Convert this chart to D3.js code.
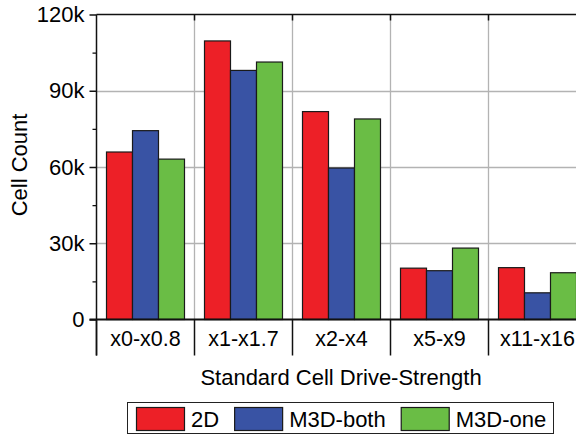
<!DOCTYPE html>
<html>
  <body style="margin:0">
    <style>
      svg {
        font-family: 'Liberation Sans', Arial, sans-serif;
      }
    </style>
    <div class="chart"></div>
    <script src="https://d3js.org/d3.v7.min.js"></script>
    <script type="text/javascript">
      // values
      const categories = ['x0-x0.8', 'x1-x1.7', 'x2-x4', 'x5-x9', 'x11-x16'];
      const seriesNames = ['2D', 'M3D-both', 'M3D-one'];
      const values2D = [65900, 109600, 81800, 20200, 20400];
      const valuesBoth = [74300, 98000, 59600, 19200, 10500];
      const valuesOne = [63100, 101300, 78900, 28100, 18400];
      const majorTicks = [0, 30000, 60000, 90000, 120000];
      const minorTicks = [15000, 45000, 75000, 105000];
      const tickLabels = ['0', '30k', '60k', '90k', '120k'];

      const colorArray = ['#ed2027', '#3953a4', '#6abd45'];
      const width = 576;
      const height = 434;
      const margin = { top: 14.5, left: 96.5, bottom: 319.5 };
      const bandWidth = 98;

      const data = categories.map((c, i) => ({
        label: c,
        values: [values2D[i], valuesBoth[i], valuesOne[i]],
      }));

      const svg = d3
        .select('.chart')
        .append('svg')
        .attr('width', width)
        .attr('height', height);

      const scaleX = d3
        .scaleBand()
        .domain(categories)
        .range([margin.left, margin.left + bandWidth * categories.length]);
      const scaleInner = d3
        .scaleBand()
        .domain(seriesNames)
        .range([10, bandWidth - 10]);
      const scaleY = d3
        .scaleLinear()
        .domain([0, 120000])
        .range([margin.bottom, margin.top]);

      // grid
      const grid = svg.append('g').attr('stroke', '#b3b3b3').attr('stroke-width', 1.3);
      grid
        .selectAll('line.h')
        .data(majorTicks.slice(1, 4))
        .enter()
        .append('line')
        .attr('x1', margin.left)
        .attr('x2', width)
        .attr('y1', (d) => Math.round(scaleY(d)) + 0.5)
        .attr('y2', (d) => Math.round(scaleY(d)) + 0.5);
      grid
        .selectAll('line.v')
        .data(categories.slice(1))
        .enter()
        .append('line')
        .attr('x1', (d) => scaleX(d))
        .attr('x2', (d) => scaleX(d))
        .attr('y1', margin.top)
        .attr('y2', margin.bottom);

      // bars
      const groups = svg
        .selectAll('g.group')
        .data(data)
        .enter()
        .append('g')
        .attr('transform', (d) => `translate(${scaleX(d.label)},0)`);
      groups
        .selectAll('rect')
        .data((d) => d.values.map((v, i) => ({ name: seriesNames[i], value: v })))
        .enter()
        .append('rect')
        .attr('x', (d) => scaleInner(d.name))
        .attr('y', (d) => scaleY(d.value))
        .attr('width', scaleInner.bandwidth())
        .attr('height', (d) => margin.bottom - scaleY(d.value))
        .attr('fill', (d, i) => colorArray[i])
        .attr('stroke', '#1a1a1a')
        .attr('stroke-width', 1.2);

      // frame: top line with ticks, category separators below the axis
      const frame = svg.append('g').attr('stroke', '#111');
      frame
        .append('line')
        .attr('x1', margin.left)
        .attr('x2', width)
        .attr('y1', margin.top)
        .attr('y2', margin.top)
        .attr('stroke-width', 1.5);
      frame
        .selectAll('line.top')
        .data(categories.slice(1))
        .enter()
        .append('line')
        .attr('x1', (d) => scaleX(d))
        .attr('x2', (d) => scaleX(d))
        .attr('y1', margin.top)
        .attr('y2', margin.top + 6)
        .attr('stroke-width', 1.5);
      frame
        .selectAll('line.sep')
        .data(categories)
        .enter()
        .append('line')
        .attr('x1', (d) => scaleX(d))
        .attr('x2', (d) => scaleX(d))
        .attr('y1', margin.bottom)
        .attr('y2', margin.bottom + 36)
        .attr('stroke-width', 1.5);

      // x category labels
      svg
        .append('g')
        .selectAll('text')
        .data(categories)
        .enter()
        .append('text')
        .attr('x', (d) => scaleX(d) + bandWidth / 2)
        .attr('y', margin.bottom + 26.5)
        .attr('text-anchor', 'middle')
        .attr('font-size', 21.5)
        .attr('fill', '#000')
        .text((d) => d);

      // y axis
      const axisLeft = d3
        .axisLeft(scaleY)
        .tickValues(majorTicks)
        .tickSize(7)
        .tickPadding(5)
        .tickFormat((d, i) => tickLabels[i]);
      const yAxis = svg
        .append('g')
        .attr('transform', `translate(${margin.left},0)`)
        .call(axisLeft);
      yAxis.select('.domain').remove();
      yAxis.selectAll('.tick line').attr('stroke', '#111').attr('stroke-width', 1.5);
      yAxis
        .selectAll('.tick text')
        .attr('font-size', 22)
        .attr('font-family', 'Liberation Sans, Arial, sans-serif')
        .attr('fill', '#000');
      const axisMinor = d3.axisLeft(scaleY).tickValues(minorTicks).tickSize(4).tickFormat('');
      const yMinor = svg
        .append('g')
        .attr('transform', `translate(${margin.left},0)`)
        .call(axisMinor);
      yMinor.select('.domain').remove();
      yMinor.selectAll('.tick line').attr('stroke', '#111').attr('stroke-width', 1.3);

      svg
        .append('line')
        .attr('x1', margin.left)
        .attr('x2', margin.left)
        .attr('y1', margin.top)
        .attr('y2', margin.bottom + 36)
        .attr('stroke', '#111')
        .attr('stroke-width', 1.5);
      svg
        .append('line')
        .attr('x1', margin.left - 7)
        .attr('x2', width)
        .attr('y1', margin.bottom)
        .attr('y2', margin.bottom)
        .attr('stroke', '#111')
        .attr('stroke-width', 2.2);

      // axis titles
      svg
        .append('text')
        .attr('transform', `translate(27,165) rotate(-90)`)
        .attr('text-anchor', 'middle')
        .attr('font-size', 22)
        .attr('fill', '#000')
        .text('Cell Count');
      svg
        .append('text')
        .attr('x', 341)
        .attr('y', 385)
        .attr('text-anchor', 'middle')
        .attr('font-size', 22)
        .attr('fill', '#000')
        .text('Standard Cell Drive-Strength');

      // legend
      const legend = svg.append('g');
      legend
        .append('rect')
        .attr('x', 127.5)
        .attr('y', 402.5)
        .attr('width', 426)
        .attr('height', 31)
        .attr('fill', 'white')
        .attr('stroke', '#222')
        .attr('stroke-width', 1);
      let lx = 136;
      seriesNames.forEach((name, i) => {
        legend
          .append('rect')
          .attr('x', lx + 0.5)
          .attr('y', 407.5)
          .attr('width', 48)
          .attr('height', 23)
          .attr('fill', colorArray[i])
          .attr('stroke', '#1a1a1a')
          .attr('stroke-width', 1.2);
        const t = legend
          .append('text')
          .attr('x', lx + 55)
          .attr('y', 427)
          .attr('font-size', 22)
          .attr('fill', '#000')
          .text(name);
        lx = lx + 55 + t.node().getComputedTextLength() + 15;
      });
    </script>
  </body>
</html>
